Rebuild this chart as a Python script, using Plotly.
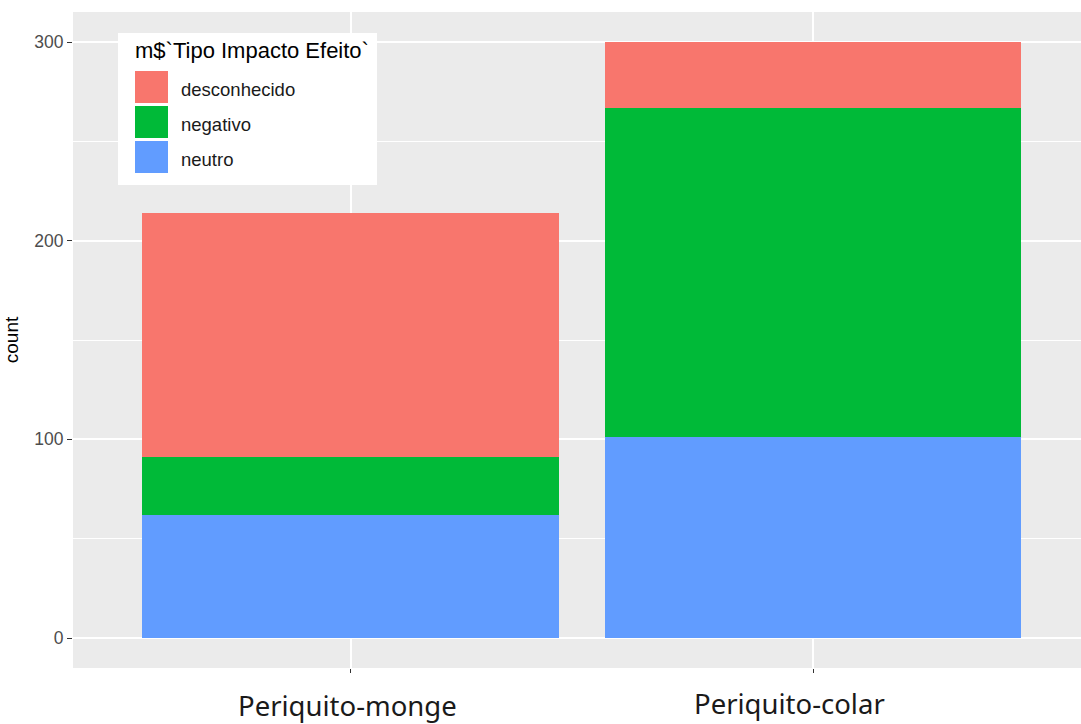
import plotly.graph_objects as go

categories = ["Periquito-monge", "Periquito-colar"]
series_names = ["desconhecido", "negativo", "neutro"]
series_colors = ["#F8766D", "#00BA38", "#619CFF"]
desconhecido = [123, 33]
negativo = [29, 166]
neutro = [62, 101]
y_ticks = [0, 100, 200, 300]
legend_title = "m$`Tipo Impacto Efeito`"
y_title = "count"

values = {"desconhecido": desconhecido, "negativo": negativo, "neutro": neutro}
color_of = dict(zip(series_names, series_colors))

W, H = 1081, 724
L, R, T, B = 73, 0, 12, 56
pw, ph = W - L - R, H - T - B

fig = go.Figure()
# stack bottom to top: neutro, negativo, desconhecido
for name in ["neutro", "negativo", "desconhecido"]:
    fig.add_trace(go.Bar(
        x=categories, y=values[name], name=name,
        marker=dict(color=color_of[name], line=dict(width=0)),
        width=0.9, showlegend=False,
    ))

def px_x(p):
    return (p - L) / pw

def px_y(p):
    return (H - B - p) / ph

shapes = []
annotations = []
# legend box
shapes.append(dict(type="rect", xref="paper", yref="paper",
                   x0=px_x(118), x1=px_x(377), y0=px_y(185), y1=px_y(33),
                   fillcolor="white", line=dict(width=0), layer="above"))
annotations.append(dict(text=legend_title, xref="paper", yref="paper",
                        x=px_x(133), y=px_y(50), xanchor="left", yanchor="middle",
                        showarrow=False, font=dict(family="Liberation Sans, Arial", size=22, color="#000000")))
for i, name in enumerate(series_names):
    top = 71 + 35 * i
    shapes.append(dict(type="rect", xref="paper", yref="paper",
                       x0=px_x(135), x1=px_x(168), y0=px_y(top + 32), y1=px_y(top),
                       fillcolor=color_of[name], line=dict(width=0), layer="above"))
    annotations.append(dict(text=name, xref="paper", yref="paper",
                            x=px_x(179), y=px_y(top + 18), xanchor="left", yanchor="middle",
                            showarrow=False, font=dict(family="Liberation Sans, Arial", size=18.5, color="#1a1a1a")))

# category labels below axis
label_centers = [(347, 705), (789, 703)]
for cat, (cx, cy) in zip(categories, label_centers):
    annotations.append(dict(text=cat, xref="paper", yref="paper", x=px_x(cx), y=px_y(cy),
                            xanchor="center", yanchor="middle", showarrow=False,
                            font=dict(family="Noto Sans, Open Sans", size=27.5, color="#1a1a1a")))

fig.update_layout(
    width=W, height=H,
    margin=dict(l=L, r=R, t=T, b=B, pad=0),
    paper_bgcolor="white", plot_bgcolor="#EBEBEB",
    barmode="stack", bargap=0.1,
    shapes=shapes, annotations=annotations,
    showlegend=False,
    font=dict(family="Liberation Sans, Arial"),
)
fig.update_xaxes(
    type="category", range=[-0.6, 1.579],
    showgrid=True, gridcolor="white", gridwidth=1.5,
    showticklabels=False, ticks="outside", ticklen=4, tickcolor="#333333", tickwidth=1,
    zeroline=False, showline=False,
)
fig.update_yaxes(
    range=[-15.1, 315.1], tickvals=y_ticks,
    showgrid=True, gridcolor="white", gridwidth=1.5,
    minor=dict(dtick=50, tick0=0, showgrid=True, gridcolor="white", gridwidth=0.7, ticks=""),
    ticks="outside", ticklen=5, tickcolor="#333333", tickwidth=1,
    tickfont=dict(size=17.5, color="#4D4D4D"),
    zeroline=False, showline=False,
    title=dict(text=y_title, font=dict(size=19, color="#000000"), standoff=10),
)

fig.write_html("out.html", config={"displayModeBar": False},
               post_script="document.body.style.margin='0';document.body.style.overflow='hidden';")
